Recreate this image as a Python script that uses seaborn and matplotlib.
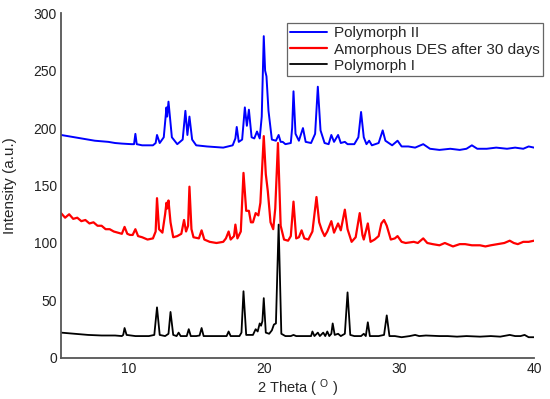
import numpy as np
import pandas as pd
import matplotlib
matplotlib.use('Agg')
import matplotlib.pyplot as plt
import seaborn as sns

## Datos (2 Theta, intensidad)
x_pol2 = [5.0, 5.5, 6.0, 6.5, 7.0, 7.5, 8.0, 8.5, 9.0, 9.5, 10.2, 10.4, 10.5, 10.6, 11.0, 11.8,
          12.0, 12.1, 12.3, 12.6, 12.8, 12.85, 12.95, 13.2, 13.6, 14.0, 14.2, 14.35, 14.5, 14.7,
          15.0, 15.8, 17.0, 17.7, 17.9, 18.0, 18.15, 18.4, 18.6, 18.75, 18.9, 19.1, 19.3, 19.5,
          19.7, 19.85, 20.0, 20.1, 20.2, 20.35, 20.6, 20.9, 21.1, 21.25, 21.4, 21.6, 22.0, 22.1,
          22.2, 22.35, 22.6, 22.9, 23.1, 23.5, 23.8, 24.0, 24.2, 24.5, 24.8, 25.0, 25.2, 25.5,
          25.7, 26.0, 26.2, 26.7, 27.0, 27.2, 27.4, 27.6, 27.8, 28.0, 28.5, 28.8, 29.0, 29.5,
          29.9, 30.2, 30.7, 31.2, 31.8, 32.3, 33.0, 33.8, 34.5, 35.0, 35.4, 35.8, 36.5, 37.2,
          38.0, 38.6, 39.2, 39.6, 40.0]
y_pol2 = [194, 193, 192, 191, 190, 189, 188.5, 188, 187, 186.5, 186, 186, 195, 186, 185, 185,
          187, 194, 187, 192, 218, 210, 223, 192, 186, 190, 215, 194, 210, 190,
          185, 184, 183, 185, 191, 201, 188, 190, 218, 202, 216, 192, 191, 197,
          191, 210, 280, 250, 245, 215, 190, 189, 194, 188, 188, 186, 187, 200,
          232, 195, 189, 200, 188, 187, 195, 236, 198, 187, 186, 194, 188, 194,
          187, 188, 186, 186, 192, 214, 192, 186, 189, 185, 187, 198, 189, 185,
          189, 184, 184, 183, 186, 182, 181, 182, 181, 182, 185, 182, 182, 183,
          182, 183, 182, 184, 183]

x_amorf = [5.0, 5.3, 5.6, 5.9, 6.2, 6.5, 6.8, 7.1, 7.4, 7.7, 8.0, 8.3, 8.6, 8.9, 9.2, 9.5,
           9.7, 9.9, 10.1, 10.3, 10.5, 10.7, 11.0, 11.4, 11.8, 12.0, 12.1, 12.25, 12.5, 12.7,
           12.8, 12.85, 12.95, 13.1, 13.3, 13.6, 13.9, 14.1, 14.25, 14.4, 14.5, 14.65, 14.8,
           15.2, 15.4, 15.6, 16.0, 16.5, 17.0, 17.2, 17.4, 17.55, 17.8, 17.9, 18.05, 18.3,
           18.5, 18.7, 18.9, 19.05, 19.2, 19.4, 19.6, 19.75, 20.0, 20.15, 20.3, 20.5, 20.7,
           20.85, 21.05, 21.25, 21.5, 21.8, 22.0, 22.2, 22.4, 22.6, 22.8, 23.0, 23.3, 23.6,
           23.9, 24.1, 24.3, 24.5, 24.7, 25.0, 25.2, 25.5, 25.7, 26.0, 26.2, 26.5, 26.8,
           27.1, 27.3, 27.4, 27.7, 27.9, 28.2, 28.5, 28.7, 28.9, 29.1, 29.4, 29.7, 29.9,
           30.2, 30.5, 31.1, 31.4, 31.8, 32.1, 32.5, 33.0, 33.4, 33.8, 34.0, 34.5, 34.9,
           35.4, 36.0, 36.4, 36.8, 37.3, 37.8, 38.2, 38.5, 38.8, 39.2, 39.6, 40.0]
y_amorf = [126, 122, 125, 121, 122, 119, 120, 117, 118, 115, 115, 112, 112, 110, 109, 108,
           114, 108, 107, 107, 112, 106, 105, 103, 104, 110, 139, 112, 109, 125,
           135, 130, 137, 118, 105, 106, 108, 120, 110, 115, 149, 112, 105,
           104, 111, 103, 101, 100, 101, 104, 110, 103, 106, 116, 104, 110,
           161, 128, 128, 118, 118, 126, 124, 135, 193, 160, 145, 118, 112,
           130, 187, 115, 103, 102, 106, 136, 104, 105, 111, 104, 103, 110,
           140, 118, 111, 106, 110, 119, 109, 117, 111, 129, 112, 101, 105,
           126, 107, 103, 117, 101, 103, 106, 117, 120, 115, 103, 104, 106,
           101, 100, 101, 100, 104, 100, 99, 98, 100, 98, 97, 99, 99,
           98, 98, 97, 98, 99, 100, 102, 100, 99, 101, 101, 102]

x_pol1 = [5.0, 6.0, 7.0, 8.0, 9.0, 9.5, 9.6, 9.7, 9.85, 10.5, 11.5, 11.9, 12.1, 12.3, 12.7,
          12.95, 13.1, 13.3, 13.55, 13.7, 13.85, 14.3, 14.45, 14.6, 15.0, 15.25, 15.4, 15.55,
          16.5, 17.25, 17.4, 17.55, 18.2, 18.35, 18.5, 18.7, 19.2, 19.4, 19.55, 19.7, 19.8,
          19.9, 20.0, 20.15, 20.4, 20.6, 20.75, 20.9, 21.1, 21.3, 21.6, 22.0, 22.2, 22.4,
          23.0, 23.5, 23.6, 23.75, 24.0, 24.15, 24.4, 24.55, 24.7, 24.85, 25.0, 25.1, 25.25,
          25.5, 25.7, 26.0, 26.2, 26.4, 26.7, 27.2, 27.4, 27.55, 27.7, 27.85, 28.5, 28.9,
          29.1, 29.3, 29.7, 30.2, 30.8, 31.2, 31.5, 32.0, 33.0, 33.6, 34.3, 35.0, 36.0,
          36.8, 37.5, 38.2, 38.6, 39.0, 39.3, 39.6, 40.0]
y_pol1 = [22, 21, 20, 19.5, 19.5, 19, 20, 26, 20, 19, 19, 20, 44, 20, 19,
          21, 40, 20, 19, 22, 19, 19, 25, 19, 19, 19.5, 26, 19,
          19, 19, 23, 19, 19, 22, 58, 20, 20, 25, 23, 30, 28,
          32, 52, 22, 21, 24, 29, 30, 116, 21, 19, 19, 20, 19,
          19, 19, 23, 19, 22, 19, 22, 19, 23, 19, 21, 30, 20,
          21, 19, 21, 57, 20, 19, 19, 21, 19, 31, 19, 19, 20,
          37, 19, 19, 18, 19, 20, 19, 19.5, 19, 19, 18.5, 19, 18.5,
          19, 18.5, 20, 19, 19, 20, 18, 18]

series = ['Polymorph II', 'Amorphous DES after 30 days', 'Polymorph I']
colores = ['#0000ff', '#ff0000', '#000000']
grosor = [1.4, 1.6, 1.3]

sns.set_style('white')
plt.rcParams['font.family'] = ['Liberation Sans', 'DejaVu Sans']

fig = plt.figure(figsize=(5.5, 3.99), dpi=100)
ax = fig.add_axes([0.111, 0.103, 0.86, 0.864])

for nombre, xs, ys, c, lw in zip(series, [x_pol2, x_amorf, x_pol1], [y_pol2, y_amorf, y_pol1], colores, grosor):
    df = pd.DataFrame({'x': xs, 'y': ys})
    sns.lineplot(data=df, x='x', y='y', ax=ax, color=c, lw=lw, label=nombre, sort=False)

ax.set_xlim(5, 40)
ax.set_ylim(0, 300)
ax.set_xticks([10, 20, 30, 40])
ax.set_yticks(np.arange(0, 301, 50))
ax.tick_params(direction='in', length=3, labelsize=10, pad=3, colors='#222222')

for s in ['top', 'right']:
    ax.spines[s].set_visible(False)
for s in ['left', 'bottom']:
    ax.spines[s].set_color('#555555')
    ax.spines[s].set_linewidth(1.3)

ax.set_xlabel(r'2 Theta ( $\mathregular{^O}$ )', fontsize=10.5)
ax.set_ylabel('Intensity (a.u.)', fontsize=11)
ax.xaxis.set_label_coords(0.5, -0.058)
ax.xaxis.label.set_va('top')
ax.yaxis.set_label_coords(-0.093, 0.5)

leg = ax.legend(loc='upper right', bbox_to_anchor=(1.019, 0.971), borderaxespad=0,
                fontsize=11, frameon=True, fancybox=False, framealpha=1,
                edgecolor='#666666', handlelength=2.4, handletextpad=0.5,
                labelspacing=0.15, borderpad=0.2)
leg.get_frame().set_linewidth(0.9)

fig.savefig('out.png', dpi=100)
